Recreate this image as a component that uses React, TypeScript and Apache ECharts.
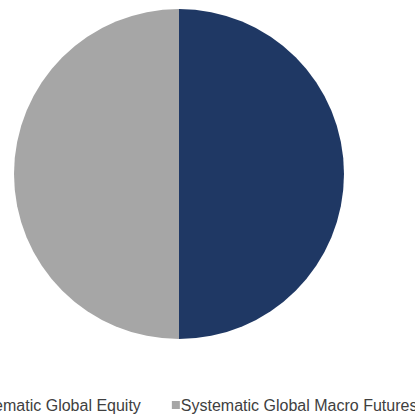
import React, { useEffect, useRef } from "react";
import * as echarts from "echarts";

const categories = ["Systematic Global Equity", "Systematic Global Macro Futures"];
const values = [50, 50];
const colors = ["#1f3864", "#a6a6a6"];

export default function App() {
  const ref = useRef<HTMLDivElement>(null);
  useEffect(() => {
    if (!ref.current) return;
    const chart = echarts.init(ref.current, null, { renderer: "svg" });
    chart.setOption({
      animation: false,
      legend: {
        orient: "horizontal",
        left: -46,
        top: 397,
        width: 700,
        itemWidth: 8,
        itemHeight: 8,
        itemGap: 31,
        icon: "rect",
        padding: 0,
        textStyle: {
          fontFamily: "Liberation Sans, Arial, sans-serif",
          fontSize: 16,
          color: "#404040",
          padding: [0, 0, 0, -4],
        },
        data: categories,
      },
      series: [
        {
          type: "pie",
          center: [179, 174],
          radius: 165,
          startAngle: 90,
          clockwise: true,
          label: { show: false },
          labelLine: { show: false },
          emphasis: { disabled: true },
          data: categories.map((c, i) => ({
            name: c,
            value: values[i],
            itemStyle: { color: colors[i] },
          })),
        },
      ],
    });
    return () => chart.dispose();
  }, []);
  return (
    <div
      ref={ref}
      style={{ position: "absolute", left: 0, top: 0, width: 415, height: 414, background: "#fff" }}
    />
  );
}
